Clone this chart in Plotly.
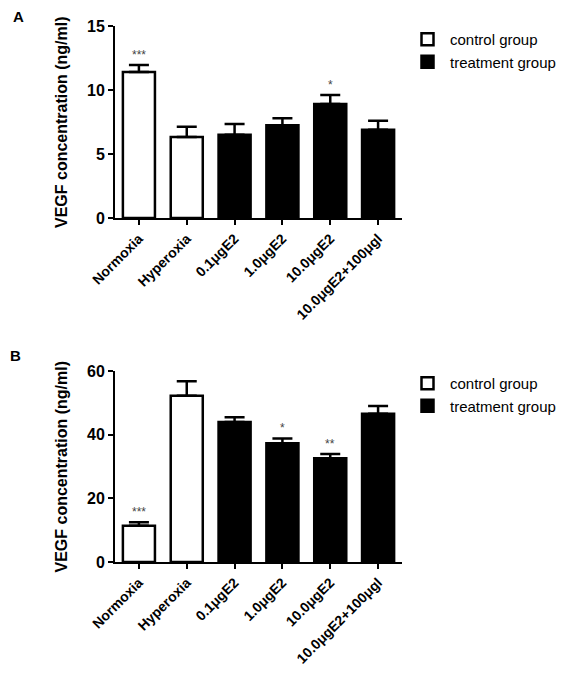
import plotly.graph_objects as go

categories = ["Normoxia", "Hyperoxia", "0.1μgE2", "1.0μgE2", "10.0μgE2", "10.0μgE2+100μgl"]
groups = ["control", "control", "treatment", "treatment", "treatment", "treatment"]
mean_a = [11.4, 6.33, 6.5, 7.25, 8.9, 6.9]
err_a = [0.55, 0.8, 0.85, 0.55, 0.7, 0.7]
sig_a = ["***", "", "", "", "*", ""]
mean_b = [11.4, 52.2, 44.0, 37.3, 32.6, 46.6]
err_b = [1.1, 4.6, 1.5, 1.5, 1.3, 2.4]
sig_b = ["***", "", "", "*", "**", ""]
yticks_a = [0, 5, 10, 15]
yticks_b = [0, 20, 40, 60]

W, H = 571, 677
OFF = 8  # page body margin
FONT = "Liberation Sans"


def px(rx):
    return (rx - OFF) / W


def py(ry):
    return 1 - (ry - OFF) / H


fig = go.Figure()


def add_panel(means, errs, xa, ya, legend):
    for grp, name, fill in [("control", "control group", "white"), ("treatment", "treatment group", "black")]:
        idx = [i for i, g in enumerate(groups) if g == grp]
        fig.add_trace(go.Bar(
            x=[categories[i] for i in idx],
            y=[means[i] for i in idx],
            name=name,
            marker=dict(color=fill, line=dict(color="black", width=2.5)),
            error_y=dict(type="data", symmetric=False,
                         array=[errs[i] for i in idx],
                         arrayminus=[0] * len(idx),
                         color="black", thickness=2.5, width=10),
            xaxis=xa, yaxis=ya, legend=legend, showlegend=True,
        ))


add_panel(mean_a, err_a, "x", "y", "legend")
add_panel(mean_b, err_b, "x2", "y2", "legend2")

x_dom = [px(115), px(402)]
ya_dom = [py(218), py(26)]
yb_dom = [py(562), py(371)]

axis_common = dict(showline=True, linecolor="black", linewidth=2, ticks="outside",
                   ticklen=5, tickwidth=2, tickcolor="black", showgrid=False,
                   zeroline=False, automargin=False,
                   tickfont=dict(family=FONT, size=16, color="black", weight="bold"))
xaxis_common = dict(axis_common, type="category", categoryorder="array",
                    categoryarray=categories, range=[-0.5, 5.5], tickangle=-45,
                    tickfont=dict(family=FONT, size=14, color="black", weight="bold"))

legend_common = dict(xanchor="left", yanchor="top", itemwidth=35,
                     font=dict(family=FONT, size=15, color="black"), tracegroupgap=0,
                     bgcolor="rgba(0,0,0,0)")

fig.update_layout(
    width=W, height=H,
    margin=dict(l=0, r=0, t=0, b=0, pad=0, autoexpand=False),
    paper_bgcolor="white", plot_bgcolor="white",
    barmode="overlay", bargap=0.33,
    xaxis=dict(xaxis_common, domain=x_dom, anchor="y"),
    yaxis=dict(axis_common, domain=ya_dom, anchor="x", range=[0, 15], tickvals=yticks_a),
    xaxis2=dict(xaxis_common, domain=x_dom, anchor="y2"),
    yaxis2=dict(axis_common, domain=yb_dom, anchor="x2", range=[0, 60], tickvals=yticks_b),
    legend=dict(legend_common, x=px(405), y=py(23)),
    legend2=dict(legend_common, x=px(405), y=py(367)),
    showlegend=True,
)

annotations = []
for means, errs, sigs, xr, yr in [(mean_a, err_a, sig_a, "x", "y"), (mean_b, err_b, sig_b, "x2", "y2")]:
    for c, m, e, s in zip(categories, means, errs, sigs):
        if s:
            annotations.append(dict(x=c, y=m + e, xref=xr, yref=yr, text=s, showarrow=False,
                                    yanchor="bottom", yshift=1,
                                    font=dict(family=FONT, size=12, color="#444")))

for dom in [ya_dom, yb_dom]:
    annotations.append(dict(x=px(61), y=(dom[0] + dom[1]) / 2, xref="paper", yref="paper",
                            text="VEGF concentration (ng/ml)", textangle=-90, showarrow=False,
                            xanchor="center", yanchor="middle",
                            font=dict(family=FONT, size=16, color="black", weight="bold")))

annotations.append(dict(x=px(18), y=py(16), xref="paper", yref="paper", text="A",
                        showarrow=False, xanchor="center", yanchor="middle",
                        font=dict(family=FONT, size=15, color="black", weight="bold")))
annotations.append(dict(x=px(15), y=py(355), xref="paper", yref="paper", text="B",
                        showarrow=False, xanchor="center", yanchor="middle",
                        font=dict(family=FONT, size=15, color="black", weight="bold")))

fig.update_layout(annotations=annotations)

fig.write_html("out.html")
